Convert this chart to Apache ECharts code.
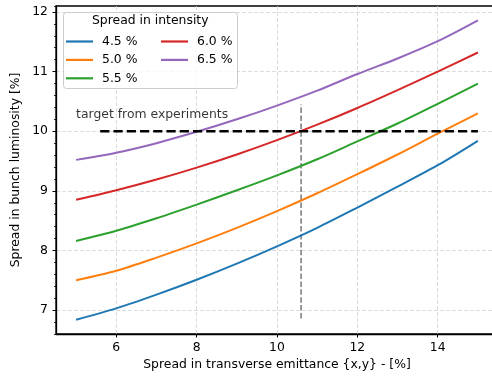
<!DOCTYPE html>
<html>
<head>
<meta charset="utf-8">
<script src="https://cdn.jsdelivr.net/npm/echarts@6/dist/echarts.min.js"></script>
<style>
  html, body { margin: 0; padding: 0; background: #fff; }
  #chart { width: 492px; height: 376px; }
</style>
</head>
<body>
<div id="chart"></div>
<script>
// emittance spread (x axis)
const xValues = [5, 6, 7, 8, 9, 10, 11, 12, 13, 14, 15];
// luminosity spread per intensity spread
const spread45 = [6.84, 7.03, 7.26, 7.51, 7.78, 8.07, 8.38, 8.72, 9.07, 9.43, 9.84];
const spread50 = [7.50, 7.66, 7.88, 8.12, 8.38, 8.66, 8.96, 9.28, 9.61, 9.96, 10.30];
const spread55 = [8.16, 8.33, 8.54, 8.77, 9.01, 9.26, 9.53, 9.83, 10.13, 10.46, 10.80];
const spread60 = [8.85, 9.01, 9.19, 9.39, 9.61, 9.85, 10.11, 10.39, 10.69, 11.00, 11.32];
const spread65 = [9.52, 9.64, 9.80, 9.99, 10.20, 10.43, 10.68, 10.96, 11.22, 11.51, 11.86];
const seriesNames = ['4.5 %', '5.0 %', '5.5 %', '6.0 %', '6.5 %'];
const colors = ['#1f77b4', '#ff7f0e', '#2ca02c', '#d62728', '#9467bd'];
// tick positions
const xTicks = [6, 8, 10, 12, 14];
const yTicks = [7, 8, 9, 10, 11, 12];
// target line and marker line
const targetX = [5.6, 15];
const targetY = 10;
const markerX = 10.6;
const markerY = [6.86, 10.45];
const targetLabel = 'target from experiments';
const targetLabelPos = [5, 10.27];

const font = 'DejaVu Sans';
const fs = 12.4;
const allData = [spread45, spread50, spread55, spread60, spread65];

let chart = echarts.init(document.getElementById('chart'));

const curves = allData.map((vals, i) => ({
  name: seriesNames[i],
  type: 'line',
  data: xValues.map((x, j) => [x, vals[j]]),
  smooth: 0.3,
  showSymbol: false,
  lineStyle: { color: colors[i], width: 2 },
  itemStyle: { color: colors[i] },
  z: 3
}));

const gridLine = { show: true, lineStyle: { color: '#d4d4d4', type: [4, 2], width: 0.8 } };
const legendText = { fontSize: fs, color: '#000', fontFamily: font, lineHeight: 14, padding: [0, 0, 0, 4] };

chart.setOption({
  animation: false,
  backgroundColor: '#fff',
  textStyle: { fontFamily: font },
  grid: { // plot area, right spine falls just outside the canvas
    left: 56, top: 6, right: -6, bottom: 42,
    outerBoundsMode: 'none', containLabel: false,
    show: true, borderColor: '#000', borderWidth: 1.3
  },
  xAxis: {
    type: 'value',
    min: 4.5, max: 15.5,
    name: 'Spread in transverse emittance {x,y} - [%]',
    nameLocation: 'middle', nameGap: 24,
    nameTextStyle: { fontSize: fs, color: '#000', fontFamily: font },
    axisLine: { show: true, lineStyle: { color: '#000', width: 1.3 } },
    axisTick: { show: true, length: 3.5, customValues: xTicks, lineStyle: { color: '#000' } },
    axisLabel: { fontSize: fs, color: '#000', margin: 8, fontFamily: font, customValues: xTicks },
    splitLine: Object.assign({ customValues: xTicks }, gridLine)
  },
  yAxis: [
    {
      type: 'value',
      min: 6.6, max: 12.1,
      name: 'Spread in bunch luminosity [%]',
      nameLocation: 'middle', nameGap: 30,
      nameTextStyle: { fontSize: fs, color: '#000', fontFamily: font },
      axisLine: { show: true, lineStyle: { color: '#000', width: 1.3 } },
      axisTick: { show: true, length: 3.5, customValues: yTicks, lineStyle: { color: '#000' } },
      axisLabel: { fontSize: fs, color: '#000', margin: 8, fontFamily: font, customValues: yTicks },
      splitLine: Object.assign({ customValues: yTicks }, gridLine)
    },
    { // minor ticks only
      type: 'value',
      min: 6.6, max: 12.1, interval: 0.2,
      position: 'left',
      axisLine: { show: false },
      axisTick: { show: true, length: 2, lineStyle: { color: '#000', width: 0.8 } },
      axisLabel: { show: false },
      splitLine: { show: false }
    }
  ],
  legend: [
    {
      data: seriesNames.slice(0, 3),
      orient: 'vertical', left: 66, top: 34.5, padding: 0,
      icon: 'rect', itemWidth: 27, itemHeight: 2.2, itemGap: 4.4,
      textStyle: legendText,
      z: 5
    },
    {
      data: seriesNames.slice(3),
      orient: 'vertical', left: 161, top: 34.5, padding: 0,
      icon: 'rect', itemWidth: 27, itemHeight: 2.2, itemGap: 4.4,
      textStyle: legendText,
      z: 5
    }
  ],
  graphic: [
    {
      type: 'rect', left: 63, top: 12, z: 4,
      shape: { width: 174, height: 76, r: 3 },
      style: { fill: 'rgba(255,255,255,0.8)', stroke: '#cccccc', lineWidth: 1 }
    },
    {
      type: 'text', left: 92, top: 15, z: 5,
      style: { text: 'Spread in intensity', font: fs + 'px "DejaVu Sans"', fill: '#000' }
    }
  ],
  series: curves.concat([
    {
      name: 'target',
      type: 'line',
      data: targetX.map(x => [x, targetY]),
      showSymbol: false,
      lineStyle: { color: '#000', width: 2.5, type: [9.25, 4] },
      z: 4
    },
    {
      name: 'marker',
      type: 'line',
      yAxisIndex: 1,
      data: markerY.map(y => [markerX, y]),
      showSymbol: false,
      lineStyle: { color: '#777', width: 1.5, type: [5.5, 2.4] },
      z: 2
    },
    {
      name: 'targetText',
      type: 'scatter',
      data: [targetLabelPos],
      symbolSize: 0,
      silent: true,
      label: {
        show: true, position: 'right', distance: 0,
        formatter: targetLabel,
        fontSize: fs, color: '#000', fontFamily: font
      }
    }
  ])
});
</script>
</body>
</html>
